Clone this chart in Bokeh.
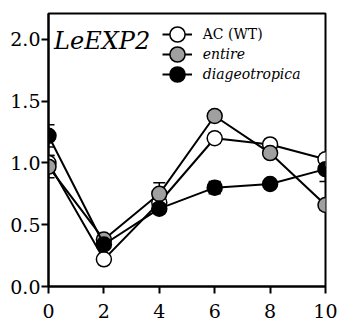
from bokeh.plotting import figure
from bokeh.models import (ColumnDataSource, Range1d, Whisker, TeeHead, Legend,
                          LegendItem, Label, FixedTicker)
from bokeh.embed import file_html
from bokeh.resources import INLINE

# ---- data ----
days = [0, 2, 4, 6, 8, 10]
ac_wt = [1.00, 0.22, 0.68, 1.20, 1.15, 1.03]
ac_wt_err = [0.06, 0.02, 0.05, 0.04, 0.04, 0.04]
entire = [0.97, 0.38, 0.75, 1.38, 1.08, 0.66]
entire_err = [0.09, 0.03, 0.09, 0.04, 0.04, 0.04]
diageo = [1.22, 0.34, 0.63, 0.80, 0.83, 0.95]
diageo_err = [0.09, 0.03, 0.04, 0.05, 0.03, 0.10]
x_ticks = [0, 2, 4, 6, 8, 10]
y_ticks = [0.0, 0.5, 1.0, 1.5, 2.0]
gene_label = "LeEXP2"

FONT = "DejaVu Serif"
LFONT = "DejaVu Serif"

p = figure(width=337, height=320, output_backend="svg", toolbar_location=None,
           x_range=Range1d(0, 10), y_range=Range1d(0, 2.21),
           min_border_left=48, min_border_right=12, min_border_top=13,
           min_border_bottom=33)
p.grid.visible = False
p.background_fill_color = "white"
p.border_fill_color = "white"
p.outline_line_color = "black"
p.outline_line_width = 2

for ax in (p.xaxis[0], p.yaxis[0]):
    ax.axis_line_width = 2
    ax.major_tick_line_width = 2
    ax.major_tick_in = 0
    ax.major_tick_out = 7
    ax.minor_tick_line_color = None
    ax.major_label_text_font = FONT
    ax.major_label_text_font_size = "19px"
    ax.major_label_text_color = "black"
    ax.axis_line_color = "black"
    ax.major_tick_line_color = "black"
p.xaxis[0].ticker = FixedTicker(ticks=x_ticks)
p.yaxis[0].ticker = FixedTicker(ticks=y_ticks)
p.yaxis[0].major_label_overrides = {t: f"{t:.1f}" for t in y_ticks}
p.xaxis[0].major_label_standoff = 10
p.yaxis[0].major_label_standoff = 1

series = [
    ("AC (WT)", ac_wt, ac_wt_err, "white", "normal"),
    ("entire", entire, entire_err, "#a0a0a0", "italic"),
    ("diageotropica", diageo, diageo_err, "black", "italic"),
]

sources = []
for name, vals, errs, col, style in series:
    src = ColumnDataSource(dict(x=days, y=vals,
                                lo=[v - e for v, e in zip(vals, errs)],
                                hi=[v + e for v, e in zip(vals, errs)]))
    sources.append(src)
    w = Whisker(source=src, base="x", upper="hi", lower="lo",
                line_color="black", line_width=1.5,
                upper_head=TeeHead(size=12, line_width=1.5, line_color="black"),
                lower_head=TeeHead(size=12, line_width=1.5, line_color="black"))
    p.add_layout(w)

row_centers = [35.0, 54.5, 74.5]
frame_bottom = 287
frame_left = 48
for (name, vals, errs, col, style), src, cy in zip(series, sources, row_centers):
    lr = p.line("x", "y", source=src, line_color="black", line_width=2)
    sr = p.scatter("x", "y", source=src, size=15, fill_color=col,
                   line_color="black", line_width=1.5)
    legA = Legend(items=[LegendItem(label=name, renderers=[lr])],
                  location=(161.7 - frame_left, frame_bottom - (cy + 10)),
                  glyph_width=30, glyph_height=20, label_height=20,
                  label_standoff=11, padding=0, margin=0, spacing=0,
                  border_line_color=None, background_fill_alpha=0,
                  label_text_font=LFONT, label_text_font_size="14px",
                  label_text_font_style=style, label_text_color="black")
    p.add_layout(legA, "center")
    legB = Legend(items=[LegendItem(label=" ", renderers=[sr])],
                  location=(157.7 - frame_left, frame_bottom - (cy + 19)),
                  glyph_width=38, glyph_height=38, label_height=1,
                  label_width=1, label_standoff=0, padding=0, margin=0,
                  spacing=0, border_line_color=None, background_fill_alpha=0,
                  label_text_font_size="1px")
    p.add_layout(legB, "center")

p.add_layout(Label(x=0.2, y=1.99, text=gene_label, text_font=FONT,
                   text_font_style="italic", text_font_size="24px",
                   text_color="black", text_baseline="alphabetic"))

open("out.html", "w").write(file_html(p, INLINE))
